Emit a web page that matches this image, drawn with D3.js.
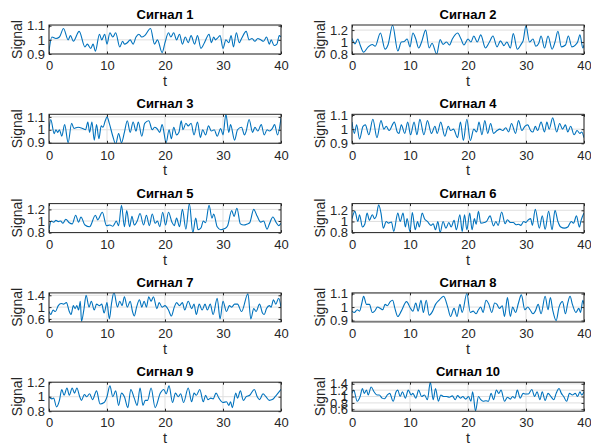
<!DOCTYPE html>
<html>
<head>
<meta charset="utf-8">
<script src="https://cdn.jsdelivr.net/npm/d3@7"></script>
<style>
  html, body { margin: 0; padding: 0; background: #fff; }
  svg { display: block; font-family: "Liberation Sans", Arial, Helvetica, sans-serif; }
</style>
</head>
<body>
<svg id="chart" width="591" height="448"></svg>
<script>
// Ten sampled signals, each given as [t, value] pairs
const signal1 = [[0,0.92],[0.5,1.02],[1.2,1.01],[1.8,1.02],[2.5,1.08],[3.3,1.0],[3.7,1.03],[4.2,0.99],[5.2,1.06],[6.2,0.95],[6.6,0.97],[7.2,0.94],[7.6,0.97],[8.0,0.92],[8.7,1.04],[9.1,1.0],[9.6,1.04],[10,0.97],[10.5,1.05],[11,1.02],[11.5,1.05],[12.2,0.95],[12.7,0.99],[13,0.97],[13.5,0.98],[14,1.0],[14.5,0.97],[15,1.02],[15.5,1.04],[16,1.02],[16.5,1.03],[17.5,1.08],[18.2,0.97],[18.7,1.0],[19.5,0.91],[20,0.98],[20.6,1.05],[21,1.02],[21.5,1.05],[22,1.0],[22.5,1.04],[23,0.97],[23.5,1.02],[24,0.98],[24.5,1.03],[25.1,0.97],[25.6,1.03],[26.2,0.94],[26.8,0.98],[27.6,1.04],[28,0.98],[28.4,1.02],[28.7,1.0],[29,1.01],[29.5,1.03],[30,0.94],[30.5,1.0],[31,0.98],[31.4,1.03],[31.8,0.95],[32.3,1.05],[32.8,0.98],[33.2,1.01],[34,1.06],[34.5,1.0],[35,1.01],[35.5,0.99],[36,1.01],[36.5,1.0],[37,0.99],[37.5,1.02],[38,0.97],[38.3,1.0],[38.8,0.96],[39.3,0.97],[39.7,1.03],[40,1.02]];
const signal2 = [[0,1.06],[0.5,0.97],[1,1.05],[1.4,0.95],[2,0.83],[2.8,0.92],[3.5,0.96],[4,0.93],[4.9,1.15],[5.7,0.88],[6.2,0.95],[7,1.28],[7.9,0.85],[8.5,1.0],[9,1.01],[9.5,1.05],[10,0.92],[10.5,1.15],[11,1.05],[11.5,0.9],[12,1.0],[12.7,1.2],[13.3,0.9],[13.8,0.98],[14.6,0.8],[15.2,1.04],[15.7,0.96],[16.3,1.0],[16.8,0.95],[17.3,1.05],[18.2,1.15],[18.8,1.05],[19.3,0.95],[20,1.05],[20.5,1.0],[21,1.1],[21.6,1.0],[22.2,1.12],[23,0.9],[23.7,1.0],[24.3,1.1],[25,0.92],[25.6,1.02],[26.2,0.94],[26.7,1.0],[27.3,0.9],[27.8,1.14],[28.5,0.88],[29.2,0.97],[29.5,1.02],[30,1.27],[30.6,1.0],[31.2,1.05],[31.7,0.93],[32.2,0.98],[32.6,1.1],[33.2,0.9],[33.8,1.1],[34.5,0.88],[35,1.0],[35.5,1.18],[36.1,0.92],[36.8,0.95],[37.3,1.1],[37.9,0.92],[38.5,0.95],[38.9,1.0],[39.3,1.12],[39.8,0.9],[40,0.95]];
const signal3 = [[0,1.0],[0.3,1.08],[0.9,0.97],[1.2,1.0],[1.5,0.98],[1.8,1.0],[2.2,0.95],[2.7,1.04],[3.3,0.9],[3.9,1.05],[4.3,1.01],[5,1.02],[5.8,1.01],[6.3,1.0],[6.7,1.06],[7,0.98],[7.4,1.06],[7.8,0.92],[8.2,1.04],[8.6,0.93],[9,1.03],[9.3,1.02],[9.7,1.07],[10,1.1],[10.4,1.05],[11,0.95],[11.5,0.89],[12,0.97],[12.5,0.9],[13,0.98],[13.5,1.07],[14,0.98],[14.5,1.06],[15,0.99],[15.4,1.06],[16,0.95],[16.5,1.05],[17.2,1.07],[17.8,1.0],[18.2,1.02],[18.6,1.01],[19.1,0.98],[19.5,1.04],[20.2,0.9],[20.7,1.0],[21.1,0.93],[21.5,1.02],[22,0.96],[22.4,0.98],[22.8,1.07],[23.1,1.0],[23.6,1.05],[24,1.03],[24.5,1.05],[25,0.96],[25.6,1.06],[26.1,0.94],[26.5,1.0],[27,0.96],[27.5,1.03],[28,0.99],[28.5,1.0],[29,0.95],[29.6,1.01],[30,0.96],[30.5,1.12],[31,0.98],[31.3,1.04],[32,0.92],[32.5,1.0],[33.2,1.02],[33.7,0.96],[34,0.99],[34.5,1.08],[35.1,0.98],[35.5,1.02],[36,0.99],[36.6,1.04],[37.1,0.96],[37.6,1.0],[38,0.99],[38.5,1.01],[38.9,1.04],[39.4,0.96],[40,1.09]];
const signal4 = [[0,1.05],[0.4,0.97],[0.8,1.03],[1.3,0.93],[1.9,1.02],[2.3,1.03],[2.9,0.96],[3.6,1.07],[4.3,0.94],[5,1.06],[5.5,1.0],[5.9,1.02],[6.4,0.99],[7.3,1.05],[7.8,0.98],[8.1,0.97],[8.5,1.03],[9.1,0.97],[9.6,1.05],[10.1,0.96],[10.7,1.05],[11.2,0.96],[11.7,1.07],[12.4,0.96],[13,1.06],[13.7,0.97],[14.3,1.02],[14.7,0.97],[15.3,1.05],[16,0.95],[16.6,1.02],[17,0.99],[17.5,1.0],[18.2,0.94],[18.7,1.05],[19.2,0.92],[19.8,1.07],[20.4,0.92],[21,1.0],[21.5,0.98],[21.9,1.05],[22.4,0.96],[22.9,1.06],[23.4,0.97],[23.9,1.04],[24.4,0.97],[25,0.99],[25.5,1.0],[26,0.99],[26.5,1.01],[27,0.98],[27.5,1.04],[28.2,0.97],[28.7,1.06],[29.3,0.99],[29.8,1.02],[30.3,1.03],[30.8,0.99],[31.2,0.98],[31.6,1.02],[32,0.99],[32.6,1.05],[33.2,0.98],[33.6,1.05],[34,1.0],[34.6,1.08],[35.3,0.98],[35.8,1.04],[36.3,1.0],[36.8,1.03],[37.2,0.98],[37.7,1.02],[38.3,0.96],[38.8,0.99],[39.3,0.97],[39.6,0.98],[40,0.94]];
const signal5 = [[0,0.85],[0.4,1.0],[0.8,0.98],[1.2,1.01],[1.6,0.99],[2,1.0],[2.4,0.96],[2.9,1.03],[3.5,0.97],[4,0.95],[4.6,1.1],[5.1,0.98],[5.5,1.07],[6.2,0.93],[7,0.9],[8,1.1],[8.4,1.02],[9.2,1.15],[9.9,0.92],[10.5,0.93],[11,0.91],[11.3,0.95],[11.6,1.0],[12,0.92],[12.5,1.27],[13,0.9],[13.4,1.18],[13.9,0.9],[14.3,1.08],[14.7,0.93],[15.2,1.0],[15.7,1.13],[16.3,0.93],[16.8,1.1],[17.3,0.92],[17.8,1.12],[18.3,0.96],[18.7,1.0],[19.1,0.9],[19.6,1.15],[20.1,0.93],[20.6,1.15],[21.2,0.98],[21.6,0.92],[22,1.05],[22.5,0.9],[23,1.2],[23.6,0.86],[24.2,1.3],[24.8,0.8],[25.3,1.05],[25.7,0.85],[26.2,0.88],[26.6,1.0],[27,0.97],[27.6,1.27],[28.1,1.05],[28.4,1.12],[29,0.9],[29.6,0.85],[30.3,0.87],[30.8,0.92],[31.5,1.18],[31.9,1.08],[32.4,1.22],[33,0.95],[33.6,0.93],[34.2,0.95],[34.6,0.97],[35.3,1.2],[35.9,1.08],[36.5,0.98],[37,1.0],[37.6,0.86],[38,0.95],[38.6,1.07],[39.2,0.97],[39.6,0.92],[40,0.96]];
const signal6 = [[0,1.05],[0.5,1.18],[1,1.0],[1.3,1.12],[1.8,0.9],[2.2,0.95],[2.6,1.15],[3,1.02],[3.5,1.12],[3.9,1.05],[4.2,1.1],[4.6,1.3],[5,1.15],[5.4,0.88],[5.9,1.0],[6.3,0.97],[6.8,0.99],[7.2,0.82],[7.9,1.15],[8.3,1.0],[8.8,1.15],[9.2,0.9],[9.5,1.05],[10,0.82],[10.4,1.16],[10.9,0.85],[11.3,1.0],[11.6,0.9],[12.1,1.15],[12.5,1.05],[13,1.0],[13.6,0.93],[14,0.96],[14.4,0.85],[14.8,1.0],[15.2,0.8],[15.7,1.0],[16.2,0.88],[16.7,0.98],[17.1,0.9],[17.6,1.02],[18,0.85],[18.6,1.12],[19,0.82],[19.4,1.12],[19.8,0.85],[20.3,1.15],[20.7,0.85],[21.1,1.05],[21.4,0.95],[21.8,1.18],[22.2,0.97],[22.8,0.98],[23.2,1.0],[23.8,1.1],[24.4,0.92],[24.8,1.0],[25.2,0.93],[25.8,1.17],[26.4,0.96],[26.8,1.03],[27.3,0.98],[27.8,0.98],[28.3,0.94],[28.7,0.95],[29.1,0.93],[29.6,1.0],[30,0.98],[30.3,1.02],[30.8,1.05],[31.1,0.93],[31.6,1.22],[32.3,0.88],[32.8,1.1],[33.3,0.86],[33.9,1.18],[34.5,0.85],[35,1.2],[35.5,1.0],[36,0.9],[36.6,0.88],[37.2,0.9],[37.8,1.0],[38.2,0.97],[38.7,1.1],[39.2,0.9],[39.5,1.02],[40,1.15]];
const signal7 = [[0,0.85],[0.3,0.75],[0.7,0.9],[1.1,0.85],[1.6,1.05],[2.1,1.12],[2.5,1.1],[3,1.15],[3.5,0.85],[3.8,0.75],[4.2,1.05],[4.5,0.95],[4.8,1.05],[5.1,0.9],[5.4,1.2],[5.6,0.52],[6,0.9],[6.4,1.4],[6.9,1.0],[7.3,1.2],[7.8,0.9],[8.2,1.1],[8.7,1.05],[9.1,1.1],[9.5,0.8],[10,1.15],[10.4,0.6],[10.8,1.15],[11.2,1.5],[11.8,1.0],[12.2,1.2],[12.6,1.05],[13,1.35],[13.5,1.0],[14,1.2],[14.4,0.85],[14.7,0.7],[15.1,1.0],[15.6,1.25],[16,1.0],[16.4,1.2],[16.8,1.0],[17.2,1.35],[17.6,1.2],[18,1.35],[18.6,0.95],[19,1.15],[19.5,1.0],[20,1.05],[20.6,0.9],[21.1,0.7],[21.6,1.0],[22,1.15],[22.5,1.05],[23,1.15],[23.4,0.9],[24,1.2],[24.6,0.95],[25,1.1],[25.4,0.75],[25.9,1.1],[26.4,0.9],[26.9,1.1],[27.3,0.9],[27.8,1.1],[28.3,0.75],[29,1.3],[29.5,0.6],[30,1.2],[30.6,0.85],[31.1,1.05],[31.5,1.0],[32,1.1],[32.5,1.1],[33.2,0.85],[34.3,1.45],[34.8,0.6],[35.3,0.95],[35.7,0.85],[36.3,1.1],[36.8,0.8],[37.1,0.75],[37.5,0.95],[38,1.05],[38.3,1.0],[38.7,1.25],[39.1,1.1],[39.6,1.3],[40,1.0]];
const signal8 = [[0,0.97],[0.4,0.96],[0.9,0.98],[1.3,0.97],[1.7,1.03],[2,1.08],[2.5,1.02],[3,1.02],[3.5,0.96],[3.9,0.97],[4.4,1.0],[4.9,0.99],[5.3,0.98],[5.7,1.02],[6.1,1.01],[6.6,1.04],[7,1.05],[7.4,0.99],[7.9,0.93],[8.5,0.97],[9.4,1.04],[10.1,0.99],[10.5,0.97],[11,1.03],[11.4,0.97],[11.9,1.05],[12.3,0.96],[12.8,1.05],[13.3,0.94],[13.9,0.97],[14.4,1.02],[15,1.05],[15.8,1.08],[16.5,1.0],[17,0.93],[17.6,0.99],[18.1,0.93],[18.6,1.02],[19,0.96],[19.8,1.1],[20.4,0.96],[20.9,0.97],[21.4,0.95],[21.8,0.98],[22.2,1.0],[22.6,0.96],[23.1,1.05],[23.6,1.02],[24.1,0.96],[24.6,1.03],[25,1.02],[25.4,0.99],[25.9,1.01],[26.3,0.93],[26.8,1.07],[27.3,0.93],[27.7,1.0],[28.2,0.96],[28.7,1.03],[29.2,1.09],[29.8,0.98],[30.3,1.0],[30.7,0.98],[31.2,0.95],[31.6,0.97],[32.1,1.02],[32.6,0.95],[33.3,1.08],[33.8,0.98],[34.2,1.07],[34.6,0.98],[35.2,0.9],[35.7,1.0],[36.3,1.04],[36.8,0.95],[37.2,1.03],[37.6,1.08],[38,1.02],[38.6,0.96],[39.1,0.99],[39.4,0.96],[39.8,1.05],[40,1.02]];
const signal9 = [[0,1.0],[0.5,0.97],[0.8,0.98],[1.3,0.86],[1.8,0.95],[2.2,1.1],[2.6,1.02],[3.1,1.12],[3.5,1.02],[4,1.12],[4.4,1.05],[4.8,1.12],[5.3,1.0],[5.6,0.95],[6.1,1.03],[6.5,1.0],[7,1.04],[7.5,0.96],[8.2,1.08],[8.8,0.9],[9.5,0.92],[10,1.0],[10.5,1.15],[11,1.0],[11.5,1.08],[12,0.88],[12.5,1.05],[13,1.0],[13.6,0.85],[14.1,1.1],[14.7,0.98],[15.2,0.88],[15.7,1.12],[16.2,0.88],[16.6,0.95],[17,0.95],[17.6,1.12],[18.3,0.85],[19.2,1.05],[19.8,1.1],[20.2,1.04],[20.7,1.15],[21.3,0.92],[21.8,1.05],[22.3,1.0],[22.7,1.04],[23.2,0.92],[24,1.12],[24.6,0.93],[25,1.05],[25.4,1.02],[26,1.1],[26.6,0.93],[27,1.02],[27.4,0.96],[27.9,0.98],[28.3,0.97],[28.8,1.05],[29.3,0.98],[30,0.92],[30.6,0.93],[31,0.88],[31.3,0.93],[31.6,0.85],[32.2,1.05],[32.5,0.98],[33,1.08],[33.5,0.95],[34,1.0],[34.6,1.02],[35.4,1.1],[35.9,1.0],[36.3,0.96],[36.9,1.04],[37.4,1.0],[38,0.95],[38.5,0.96],[39,1.0],[40,1.1]];
const signal10 = [[0,1.1],[0.3,1.2],[0.9,0.85],[1.4,1.0],[1.8,1.25],[2.1,1.1],[2.5,1.2],[2.8,1.05],[3.3,1.3],[3.8,1.15],[4.3,1.05],[4.7,1.05],[5.2,0.95],[5.6,0.93],[6.1,1.05],[6.5,1.1],[7.1,0.85],[7.6,1.15],[7.9,1.2],[8.3,1.0],[8.7,1.15],[9.2,0.95],[9.7,1.2],[10.2,1.05],[10.5,1.1],[11,0.95],[11.5,1.2],[12,1.0],[12.5,1.05],[13,0.9],[13.5,1.45],[14,0.9],[14.4,1.25],[14.9,0.85],[15.3,1.05],[15.8,1.0],[16.3,1.0],[16.8,0.98],[17.3,1.02],[17.8,0.9],[18.2,1.03],[18.7,0.95],[19.1,1.0],[19.6,0.92],[20.1,1.0],[20.5,0.85],[20.8,1.15],[21.3,0.55],[21.8,1.0],[22.2,0.9],[22.6,0.85],[23.1,0.87],[23.5,0.85],[24,1.1],[24.4,0.9],[24.9,1.2],[25.3,1.1],[25.7,1.2],[26.3,0.85],[26.8,0.98],[27.3,0.92],[27.7,1.0],[28.1,0.95],[28.5,1.2],[29,0.95],[29.5,1.1],[29.9,1.08],[30.4,1.08],[31,1.22],[31.5,1.0],[31.9,1.15],[32.4,0.9],[32.8,1.15],[33.3,0.88],[33.8,1.1],[34.3,1.0],[34.8,0.9],[35.2,1.1],[35.7,1.25],[36.1,1.1],[36.5,1.0],[37,0.85],[37.5,1.1],[38,1.05],[38.5,1.1],[38.9,1.0],[39.3,1.15],[39.6,1.05],[40,1.15]];

// Axis ranges and tick values
const titles = ["Сигнал 1","Сигнал 2","Сигнал 3","Сигнал 4","Сигнал 5","Сигнал 6","Сигнал 7","Сигнал 8","Сигнал 9","Сигнал 10"];
const xDomain = [0, 40];
const xTicks = [0, 10, 20, 30, 40];
const yDomains = [[0.9,1.105],[0.8,1.285],[0.895,1.12],[0.9,1.105],[0.8,1.3],[0.8,1.32],[0.5,1.48],[0.89,1.105],[0.8,1.2],[0.54,1.45]];
const yTicks = [[0.9,1,1.1],[0.8,1,1.2],[0.9,1,1.1],[0.9,1,1.1],[0.8,1,1.2],[0.8,1,1.2],[0.6,1,1.4],[0.9,1,1.1],[0.8,1,1.2],[0.6,0.8,1,1.2,1.4]];
const signals = [signal1,signal2,signal3,signal4,signal5,signal6,signal7,signal8,signal9,signal10];

const svg = d3.select("#chart");
const colLeft = [49, 352];
const plotW = 232;
const plotH = 29;
const rowTop = r => 25 + r * 89.3;
const axisColor = "#262626";
const gridColor = "#dfdfdf";
const lineColor = "#0072BD";
const tickLen = 2.5;

signals.forEach((data, i) => {
  const col = i % 2, row = Math.floor(i / 2);
  const left = colLeft[col], top = rowTop(row);
  const x = d3.scaleLinear().domain(xDomain).range([0, plotW]);
  const y = d3.scaleLinear().domain(yDomains[i]).range([plotH, 0]);

  const g = svg.append("g").attr("transform", `translate(${left},${top})`);

  // grid
  g.append("g").selectAll("line").data(xTicks).join("line")
    .attr("x1", d => x(d)).attr("x2", d => x(d)).attr("y1", 0).attr("y2", plotH)
    .attr("stroke", gridColor).attr("stroke-width", 1);
  g.append("g").selectAll("line").data(yTicks[i]).join("line")
    .attr("x1", 0).attr("x2", plotW).attr("y1", d => y(d)).attr("y2", d => y(d))
    .attr("stroke", gridColor).attr("stroke-width", 1);

  // signal line
  const clipId = "clip" + i;
  g.append("clipPath").attr("id", clipId).append("rect")
    .attr("x", 0).attr("y", 0).attr("width", plotW).attr("height", plotH);
  g.append("path")
    .datum(data)
    .attr("clip-path", `url(#${clipId})`)
    .attr("fill", "none")
    .attr("stroke", lineColor)
    .attr("stroke-width", 1.1)
    .attr("stroke-linejoin", "round")
    .attr("d", d3.line().x(d => x(d[0])).y(d => y(d[1])).curve(d3.curveMonotoneX));

  // axes: bottom and left with inward ticks, plus mirrored top/right
  const xAxis = g.append("g").attr("transform", `translate(0,${plotH})`)
    .call(d3.axisBottom(x).tickValues(xTicks).tickFormat(d3.format("d")).tickSizeInner(-tickLen).tickSizeOuter(0).tickPadding(7));
  const yAxis = g.append("g")
    .call(d3.axisLeft(y).tickValues(yTicks[i]).tickFormat(d => String(d)).tickSizeInner(-tickLen).tickSizeOuter(0).tickPadding(4));
  g.append("g").call(d3.axisTop(x).tickValues(xTicks).tickFormat("").tickSizeInner(-tickLen).tickSizeOuter(0));
  g.append("g").attr("transform", `translate(${plotW},0)`)
    .call(d3.axisRight(y).tickValues(yTicks[i]).tickFormat("").tickSizeInner(-tickLen).tickSizeOuter(0));
  g.selectAll(".domain").remove();
  g.selectAll(".tick line").attr("stroke", axisColor);
  [xAxis, yAxis].forEach(a => a.selectAll("text")
    .attr("fill", axisColor).style("font-size", "13px")
    .style("font-family", '"Liberation Sans", Arial, sans-serif'));

  // frame
  g.append("rect").attr("x", 0).attr("y", 0).attr("width", plotW).attr("height", plotH)
    .attr("fill", "none").attr("stroke", axisColor).attr("stroke-width", 1);

  // title and axis labels
  g.append("text").attr("x", plotW / 2).attr("y", -6)
    .attr("text-anchor", "middle").attr("font-weight", "bold")
    .style("font-size", "13px").attr("fill", "#000").text(titles[i]);
  g.append("text").attr("x", plotW / 2).attr("y", plotH + 32)
    .attr("text-anchor", "middle").style("font-size", "14.5px").attr("fill", axisColor).text("t");
  g.append("text")
    .attr("transform", `translate(${-27},${plotH / 2}) rotate(-90)`)
    .attr("text-anchor", "middle").style("font-size", "14px").attr("fill", axisColor).text("Signal");
});
</script>
</body>
</html>
